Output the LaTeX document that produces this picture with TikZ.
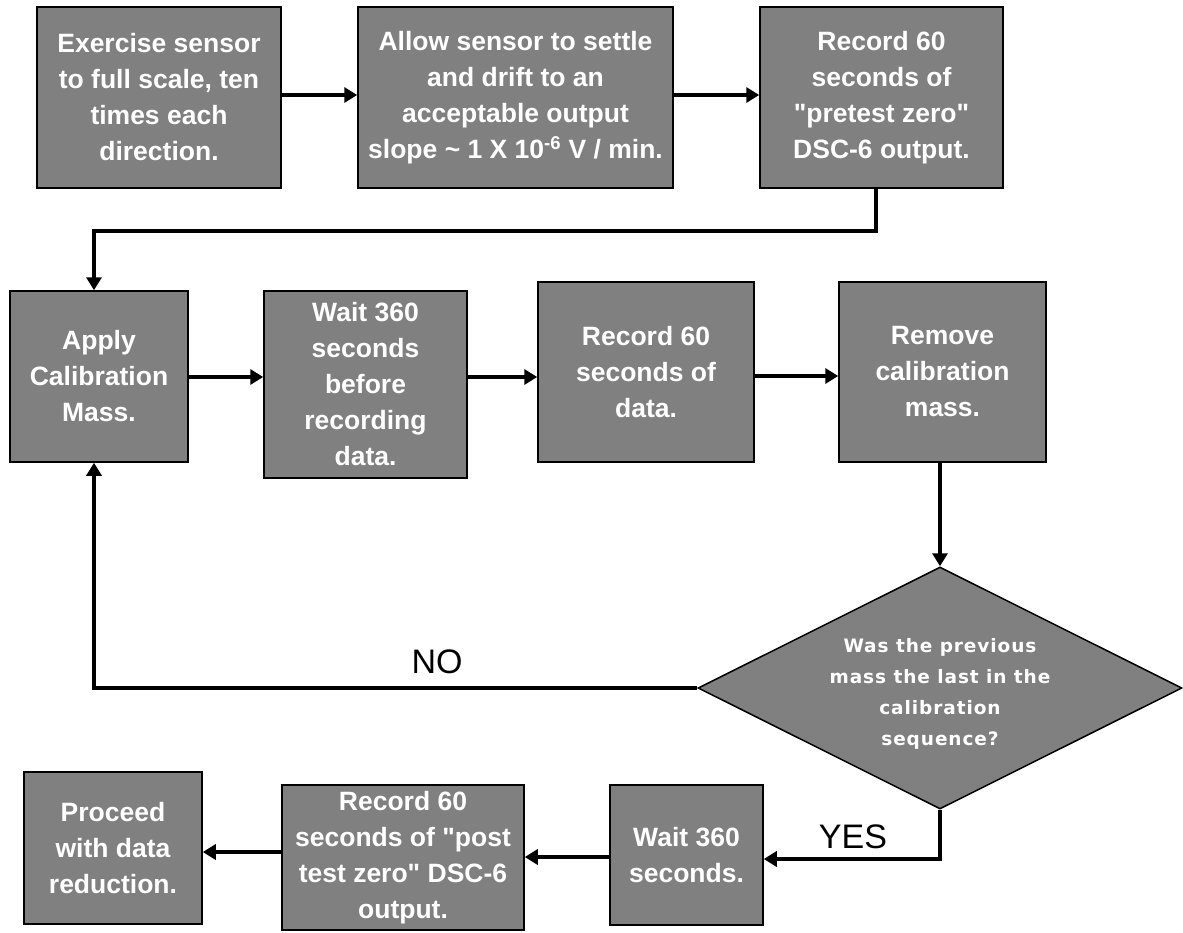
\documentclass[tikz,border=0pt]{standalone}
\usepackage{fontspec}
\setmainfont{Liberation Sans}[Ligatures=TeXOff]
\newfontfamily\diafont[LetterSpace=5]{DejaVu Sans}
\usetikzlibrary{shapes.geometric,arrows.meta}
\definecolor{boxgray}{HTML}{808080}
\tikzset{
  procbox/.style={draw=black, line width=1.5pt, fill=boxgray, text=white,
    font=\bfseries\fontsize{26.5}{36}\selectfont, align=center, inner sep=0pt},
  decbox/.style={diamond, aspect=2, draw=black, line width=1.5pt, fill=boxgray,
    inner sep=0pt},
  dectext/.style={text=white, font=\diafont\bfseries\fontsize{18.5}{31}\selectfont,
    align=center, inner sep=0pt},
  arr/.style={line width=4pt, -{Triangle[length=13pt,width=15pt]}},
  lbl/.style={font=\fontsize{34}{40}\selectfont, inner sep=0pt}
}
\begin{document}
\begin{tikzpicture}[x=1pt,y=-1pt]
\useasboundingbox[fill=white] (0,0) rectangle (1183,932);

% row 1
\node[procbox, minimum width=244pt, minimum height=181pt] (b1) at (159,97.5)
  {Exercise sensor\\to full scale, ten\\times each\\direction.};
\node[procbox, minimum width=315pt, minimum height=181pt] (b2) at (515.5,97.5)
  {Allow sensor to settle\\and drift to an\\acceptable output\\slope \textasciitilde{} 1 X 10\textsuperscript{-6} V / min.};
\node[procbox, minimum width=243pt, minimum height=181pt] (b3) at (881.5,97.5)
  {Record 60\\seconds of\\"pretest zero"\\DSC-6 output.};

% row 2
\node[procbox, minimum width=178pt, minimum height=171pt] (apply) at (99,376.5)
  {Apply\\Calibration\\Mass.};
\node[procbox, minimum width=203pt, minimum height=187pt] (wait1) at (365.5,384.5)
  {Wait 360\\seconds\\before\\recording\\data.};
\node[procbox, minimum width=216pt, minimum height=180pt] (rec) at (646,372)
  {Record 60\\seconds of\\data.};
\node[procbox, minimum width=207pt, minimum height=180pt] (remove) at (942.5,372)
  {Remove\\calibration\\mass.};

% decision
\node[decbox, minimum width=484pt, minimum height=242pt] (dia) at (940,688) {};
\node[dectext] (diatxt) at (940,694)
  {Was the previous\\mass the last in the\\calibration\\sequence?};

% row 3
\node[procbox, minimum width=153pt, minimum height=140pt] (wait2) at (686.5,855)
  {Wait 360\\seconds.};
\node[procbox, minimum width=242pt, minimum height=145pt] (rec2) at (403,857.5)
  {Record 60\\seconds of "post\\test zero" DSC-6\\output.};
\node[procbox, minimum width=178pt, minimum height=152pt] (proceed) at (113,848)
  {Proceed\\with data\\reduction.};

% labels
\node[lbl] (no) at (437,662) {NO};
\node[lbl] (yes) at (853,837) {YES};

% connectors
\draw[arr] (b1.east |- 0,95) -- (b2.west |- 0,95);
\draw[arr] (b2.east |- 0,95) -- (b3.west |- 0,95);
\draw[arr] (b3.south -| 876,0) |- (94,231) -- (apply.north -| 94,0);
\draw[arr] (apply.east |- 0,377) -- (wait1.west |- 0,377);
\draw[arr] (wait1.east |- 0,377) -- (rec.west |- 0,377);
\draw[arr] (rec.east |- 0,376) -- (remove.west |- 0,376);
\draw[arr] (dia.north |- remove.south) -- (dia.north);
\draw[arr] (dia.west) -| (apply.south -| 94,0);
\draw[arr] (dia.south) |- (wait2.east |- 0,859);
\draw[arr] (wait2.west |- 0,857) -- (rec2.east |- 0,857);
\draw[arr] (rec2.west |- 0,852) -- (proceed.east |- 0,852);
\end{tikzpicture}
\end{document}
